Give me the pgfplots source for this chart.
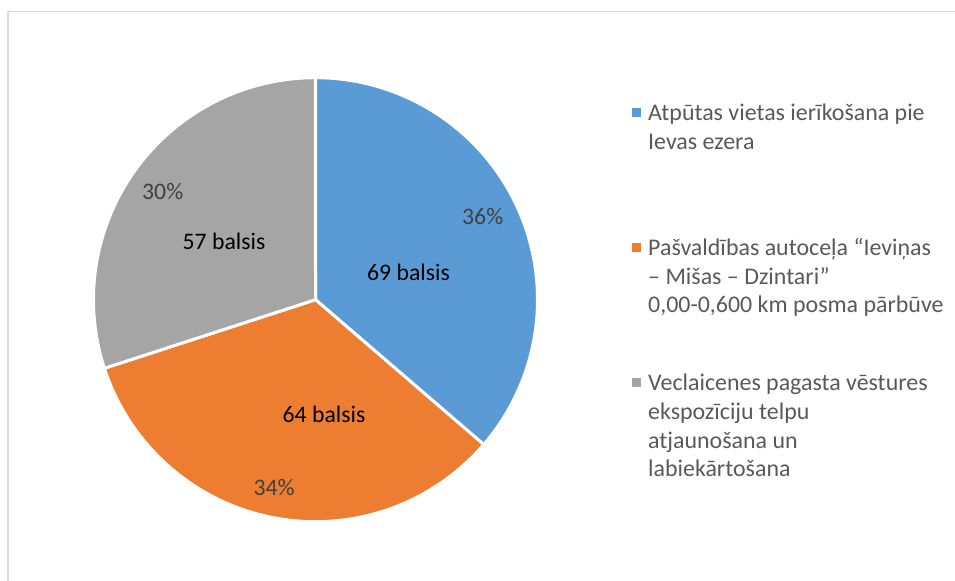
\documentclass[border=0pt]{standalone}
\usepackage{fontspec}
\setmainfont{Carlito}
\usepackage{pgfplots}
\usepackage{pgfplotstable}
\pgfplotsset{compat=1.18}
\definecolor{pieblue}{HTML}{5B9BD5}
\definecolor{pieorange}{HTML}{ED7D31}
\definecolor{piegray}{HTML}{A5A5A5}
\definecolor{legtext}{HTML}{595959}
\definecolor{pcttext}{HTML}{404040}
\definecolor{framegray}{HTML}{D9D9D9}
\pgfplotstableread{
label value
A 69
B 64
C 57
}\piedata
\newcommand{\lf}{\fontsize{23.8}{28.7}\selectfont}
\newcommand{\gf}{\fontsize{24.0}{28.7}\selectfont}
\pgfplotstablegetelem{0}{value}\of\piedata \let\va\pgfplotsretval
\pgfplotstablegetelem{1}{value}\of\piedata \let\vb\pgfplotsretval
\pgfplotstablegetelem{2}{value}\of\piedata \let\vc\pgfplotsretval
\pgfmathsetmacro\total{\va+\vb+\vc}
\pgfmathsetmacro\aA{90}
\pgfmathsetmacro\aB{90-360*(\va/\total)}
\pgfmathsetmacro\aC{\aB-360*(\vb/\total)}
\pgfmathsetmacro\aD{\aC-360*(\vc/\total)}
\def\cx{315.5}\def\cy{281.3}\def\R{222}
\begin{document}
\begin{tikzpicture}[font=\lf]
\begin{axis}[width=955bp, height=581bp, scale only axis,
  xmin=0, xmax=955, ymin=0, ymax=581, hide axis, clip=false]
\coordinate (bl) at (rel axis cs:0,0);
\coordinate (tr) at (rel axis cs:1,1);
% frame
\addplot[draw=framegray, line width=1.3bp] coordinates {(8,0) (8,569.3) (955,569.3)};
% slices
\addplot[fill=pieblue, draw=white, line width=3bp, domain=\aB:\aA, samples=150, variable=\t]
  ({\cx+\R*cos(\t)},{\cy+\R*sin(\t)}) -- (axis cs:\cx,\cy) -- cycle;
\addplot[fill=pieorange, draw=white, line width=3bp, domain=\aC:\aB, samples=150, variable=\t]
  ({\cx+\R*cos(\t)},{\cy+\R*sin(\t)}) -- (axis cs:\cx,\cy) -- cycle;
\addplot[fill=piegray, draw=white, line width=3bp, domain=\aD:\aC, samples=150, variable=\t]
  ({\cx+\R*cos(\t)},{\cy+\R*sin(\t)}) -- (axis cs:\cx,\cy) -- cycle;
% data labels
\node[font=\lf, anchor=base, text=black] at (axis cs:408.5,300.3) {\va{} balsis};
\node[font=\lf, anchor=base, text=pcttext] at (axis cs:482.7,356.3) {36\%};
\node[font=\lf, anchor=base, text=black] at (axis cs:324,158.3) {\vb{} balsis};
\node[font=\lf, anchor=base, text=pcttext] at (axis cs:274,85) {34\%};
\node[font=\lf, anchor=base, text=black] at (axis cs:224,331) {\vc{} balsis};
\node[font=\lf, anchor=base, text=pcttext] at (axis cs:162.7,381.7) {30\%};
% legend markers
\addplot[only marks, mark=square*, mark size=4.2bp, color=pieblue] coordinates {(636,468.5)};
\addplot[only marks, mark=square*, mark size=4.2bp, color=pieorange] coordinates {(636,333.5)};
\addplot[only marks, mark=square*, mark size=4.2bp, color=piegray] coordinates {(636,198.5)};
% legend text
\begin{scope}[every node/.append style={font=\gf, anchor=base west, text=legtext, inner sep=0pt}]
\node at (axis cs:648,460.3) {Atpūtas vietas ierīkošana pie};
\node at (axis cs:648,431.7) {Ievas ezera};
\node at (axis cs:648,325) {Pašvaldības autoceļa “Ieviņas};
\node at (axis cs:648,296.7) {– Mišas – Dzintari”};
\node at (axis cs:648,268.7) {0,00-0,600 km posma pārbūve};
\node at (axis cs:648,190.3) {Veclaicenes pagasta vēstures};
\node at (axis cs:648,161.6) {ekspozīciju telpu};
\node at (axis cs:648,132.9) {atjaunošana un};
\node at (axis cs:648,104.2) {labiekārtošana};
\end{scope}
\end{axis}
\pgfresetboundingbox
\path[use as bounding box] (bl) rectangle (tr);
\end{tikzpicture}
\end{document}
